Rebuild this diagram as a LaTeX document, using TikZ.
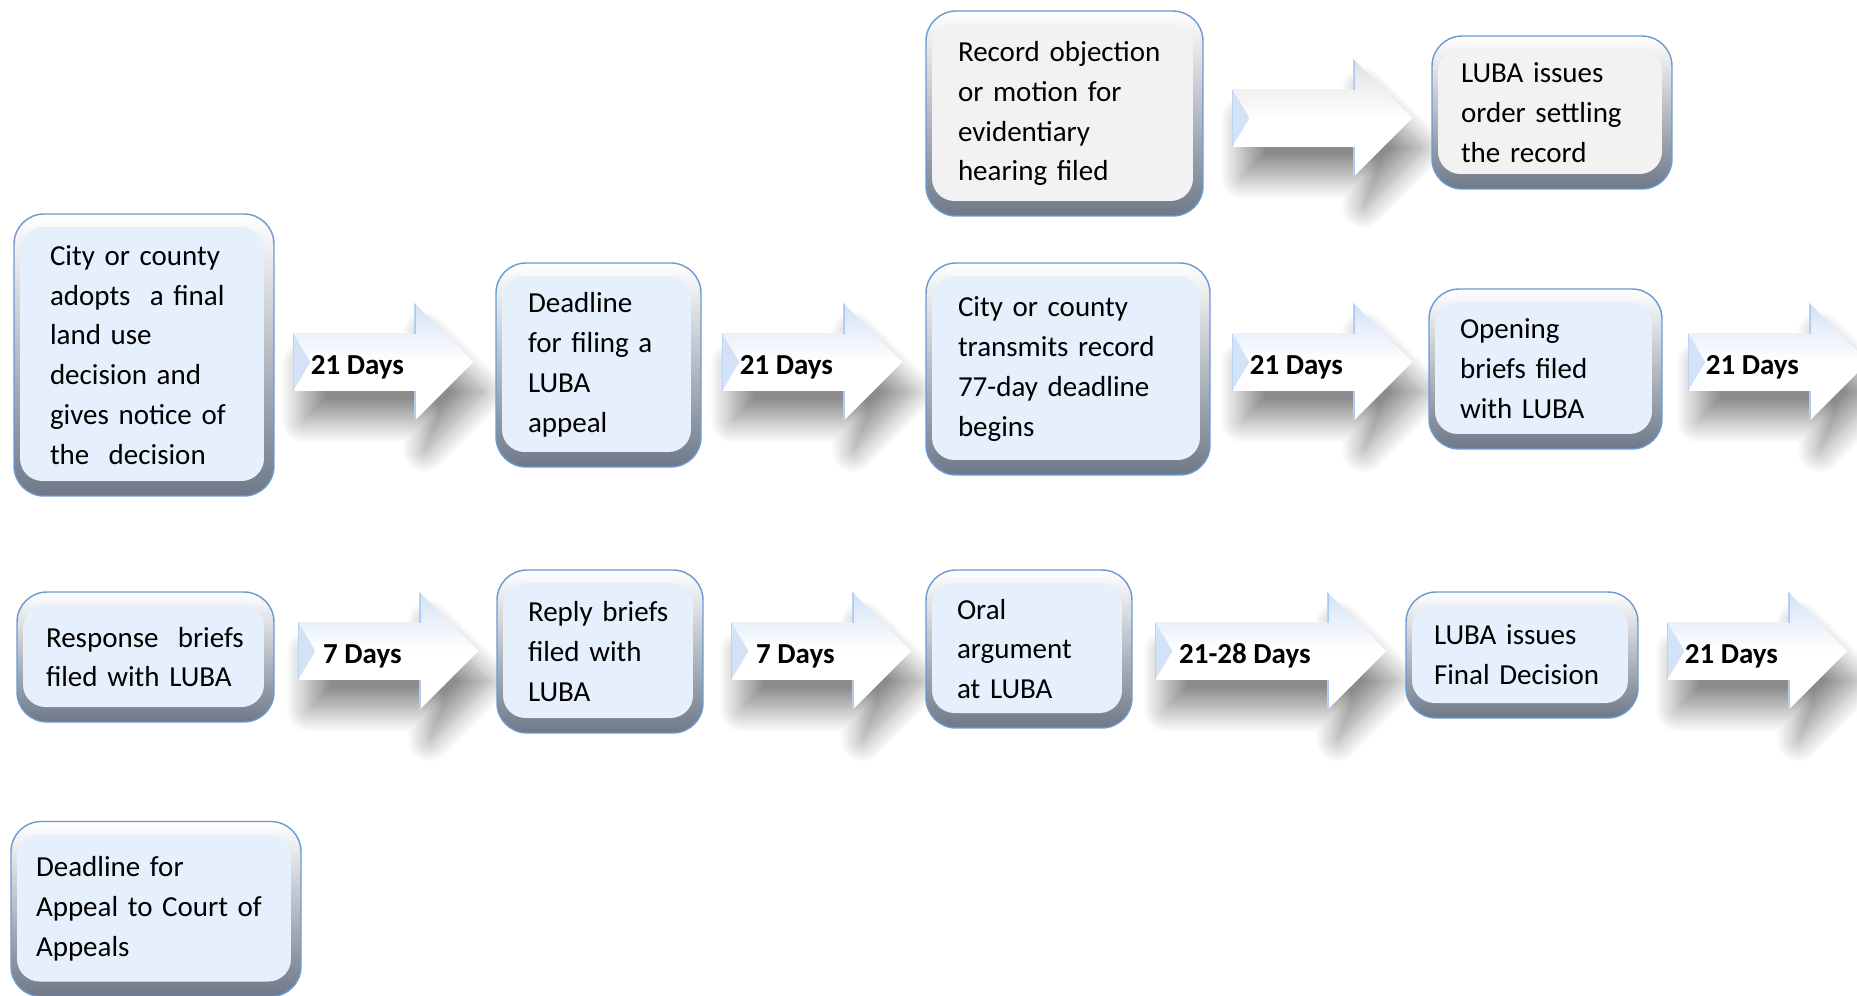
\documentclass[tikz,border=0pt]{standalone}
\usepackage{fontspec}
\setmainfont{Carlito}
\usetikzlibrary{shapes.arrows,shadows.blur}
\definecolor{boxline}{HTML}{6A9AD0}
\definecolor{bevel}{HTML}{6E7888}
\definecolor{boxfill}{HTML}{E6F0FD}
\definecolor{recfill}{HTML}{F2F2F2}
\definecolor{arrowblue}{HTML}{D3E2F6}
\definecolor{arrowline}{HTML}{A9C9F2}
\tikzset{
  stepbox/.style={rounded corners=.6cm, draw=boxline, line width=.8pt,
    top color=white, bottom color=bevel, inner xsep=0pt, align=left,
    font=\fontsize{16.5}{22.7}\selectfont,
    path picture={\fill[#1, rounded corners=.45cm]
      ([xshift=.12cm,yshift=.3cm]path picture bounding box.south west) rectangle
      ([xshift=-.2cm,yshift=-.26cm]path picture bounding box.north east);}},
  stepbox/.default=boxfill,
  daysarrow/.style={single arrow, single arrow head extend=.6cm,
    minimum width=2.34cm, minimum height=#1, anchor=tail, inner sep=0pt,
    text height=.82cm, text depth=.32cm,
    top color=arrowblue, bottom color=white, middle color=white,
    font=\bfseries\fontsize{16.5}{20}\selectfont,
    execute at end node={\hspace*{.46cm}},
    blur shadow={shadow xshift=.2cm, shadow yshift=-.6cm, shadow blur radius=.45cm,
      shadow blur steps=25, shadow opacity=45},
    path picture={
      \fill[arrowblue] ([yshift=.57cm]path picture bounding box.west)
        -- ([xshift=.34cm]path picture bounding box.west)
        -- ([yshift=-.57cm]path picture bounding box.west) -- cycle;
      \draw[arrowline, line width=1.2pt]
        ([yshift=.57cm]path picture bounding box.west) -- ([yshift=-.57cm]path picture bounding box.west)
        ([xshift=-1.17cm]path picture bounding box.north east) -- ([xshift=-1.17cm,yshift=.57cm]path picture bounding box.east)
        ([xshift=-1.17cm]path picture bounding box.south east) -- ([xshift=-1.17cm,yshift=-.57cm]path picture bounding box.east);}},
  daysarrow/.default=3.6cm
}
\begin{document}
\begin{tikzpicture}[x=.02cm, y=-.02cm]
  \useasboundingbox (0,0) rectangle (1857,995);
  % day arrows (drawn first, boxes sit on their shadows)
  \node[daysarrow, top color=recfill!85!gray, bottom color=white, middle color=white] (rec) at (1232,118) {};
  \foreach \n/\x/\y/\t in {d1/293/362/21 Days, d2/722/362/21 Days, d3/1232/362/21 Days,
      d4/1688/362/21 Days, d5/298/651/7 Days, d6/731/651/7 Days, d8/1667/651/21 Days}
    \node[daysarrow] (\n) at (\x,\y) {\t};
  \node[daysarrow=4.62cm] (d7) at (1155,651) {21-28 Days};
  % record branch
  \node[stepbox=recfill, minimum width=5.54cm, minimum height=4.1cm, text width=4.26cm] (objection) at (1064.5,113.5)
    {Record objection\\or motion for\\evidentiary\\hearing filed};
  \node[stepbox=recfill, minimum width=4.8cm, minimum height=3.06cm, text width=3.64cm] (settle) at (1552,112.5)
    {LUBA issues\\order settling\\the record};
  % first row
  \node[stepbox, minimum width=5.2cm, minimum height=5.64cm, text width=3.76cm] (decision) at (144,355)
    {City or county\\adopts\ \ a final\\land use\\decision and\\gives notice of\\the\ \ decision};
  \node[stepbox, minimum width=4.1cm, minimum height=4.08cm, text width=2.82cm] (filing) at (598.5,365)
    {Deadline\\for filing a\\LUBA\\appeal};
  \node[stepbox, minimum width=5.68cm, minimum height=4.24cm, text width=4.4cm] (transmit) at (1068,369)
    {City or county\\transmits record\\77-day deadline\\begins};
  \node[stepbox, minimum width=4.66cm, minimum height=3.2cm, text width=3.42cm] (opening) at (1545.5,369)
    {Opening\\briefs filed\\with LUBA};
  % second row
  \node[stepbox, minimum width=5.14cm, minimum height=2.6cm, text width=3.98cm] (response) at (145.5,657)
    {Response\ \ briefs\\filed with LUBA};
  \node[stepbox, minimum width=4.12cm, minimum height=3.26cm, text width=2.88cm] (reply) at (600,651.5)
    {Reply briefs\\filed with\\LUBA};
  \node[stepbox, minimum width=4.12cm, minimum height=3.16cm, text width=2.88cm] (oral) at (1029,649)
    {Oral\\argument\\at LUBA};
  \node[stepbox, minimum width=4.64cm, minimum height=2.52cm, text width=3.52cm] (final) at (1522,655)
    {LUBA issues\\Final Decision};
  % last step
  \node[stepbox, minimum width=5.8cm, minimum height=3.5cm, text width=4.8cm] (appeal) at (156,909)
    {Deadline for\\Appeal to Court of\\Appeals};
\end{tikzpicture}
\end{document}
